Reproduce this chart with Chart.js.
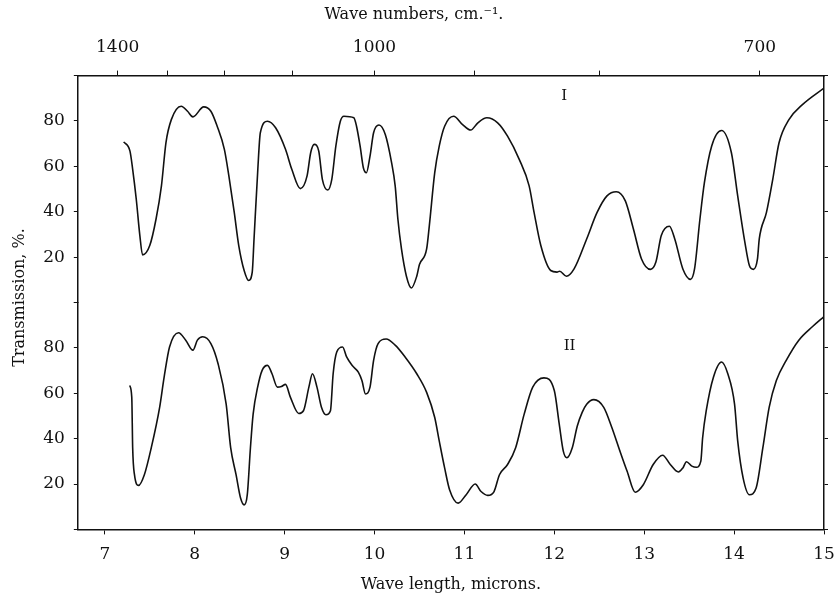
<!DOCTYPE html>
<html>
<head>
<meta charset="utf-8">
<script src="https://cdn.jsdelivr.net/npm/chart.js@4/dist/chart.umd.min.js"></script>
<style>
  html, body { margin: 0; padding: 0; background: #fff; }
  #wrap { width: 834px; height: 595px; }
</style>
</head>
<body>
<div id="wrap"><canvas id="spectra"></canvas></div>
<script>
// Curve I (upper trace): wave length in microns and transmission in %
const waveI = [7.21, 7.28, 7.31, 7.35, 7.39, 7.42, 7.50, 7.57, 7.63, 7.68, 7.74, 7.85, 7.92, 7.98,
  8.10, 8.18, 8.25, 8.33, 8.38, 8.44, 8.49, 8.55, 8.60, 8.64, 8.66, 8.70, 8.73, 8.81, 8.90,
  9.01, 9.08, 9.175, 9.25, 9.29, 9.33, 9.38, 9.42, 9.48, 9.525, 9.57, 9.62, 9.66, 9.77, 9.80,
  9.84, 9.876, 9.91, 9.95, 9.99, 10.05, 10.12, 10.19, 10.23, 10.26, 10.30, 10.355, 10.41,
  10.47, 10.50, 10.58, 10.61, 10.67, 10.72, 10.78, 10.88, 10.98, 11.07, 11.15, 11.25, 11.37,
  11.48, 11.61, 11.72, 11.775, 11.85, 11.96, 12.03, 12.06, 12.135, 12.22, 12.36, 12.476,
  12.586, 12.69, 12.79, 12.88, 12.97, 13.07, 13.13, 13.19, 13.28, 13.34, 13.43, 13.515, 13.56,
  13.62, 13.67, 13.75, 13.86, 13.97, 14.04, 14.12, 14.17, 14.215, 14.26, 14.28, 14.36, 14.43,
  14.50, 14.61, 14.76, 15.0];
const transI = [70.8, 66.7, 58.7, 45.5, 29.5, 21.0, 25.1, 36.8, 51.4, 70.4, 80.6, 86.5, 84.3, 81.8,
  86.2, 84.3, 77.7, 67.5, 55.8, 39.7, 25.1, 14.1, 9.7, 13.4, 28.0, 57.2, 74.8, 79.9, 77.0,
  67.5, 58.7, 50.2, 55.8, 66.0, 69.7, 66.7, 54.3, 49.6, 54.3, 68.9, 79.9, 82.1, 81.4, 77.7,
  68.9, 59.4, 57.2, 64.5, 74.8, 78.2, 74.0, 61.6, 51.4, 36.8, 23.6, 11.6, 6.4,
  11.6, 16.7, 23.6, 33.9, 57.2, 68.9, 77.7, 82.1, 78.4, 76.0, 79.2, 81.4, 79.2,
  73.3, 63.1, 51.4, 39.7, 25.1, 14.1, 13.4, 13.8, 11.6, 14.8, 28.0, 39.7,
  47.0, 48.8, 44.8, 32.4, 19.2, 14.6, 17.8, 29.5, 33.6, 28.0, 14.8, 10.2, 14.8,
  36.8, 52.9, 68.9, 75.8, 66.0, 47.0, 26.5, 16.3, 14.6, 19.2, 28.0, 39.7, 54.3,
  70.4, 80.6, 87.2, 94.5];

// Curve II (lower trace)
const waveII = [7.277, 7.30, 7.31, 7.33, 7.376, 7.44, 7.517, 7.61, 7.66, 7.72, 7.82, 7.90, 7.98,
  8.03, 8.09, 8.18, 8.26, 8.35, 8.40, 8.46, 8.51, 8.55, 8.585, 8.62, 8.65, 8.70, 8.75, 8.81,
  8.86, 8.92, 8.965, 9.01, 9.065, 9.157, 9.21, 9.27, 9.31, 9.36, 9.41, 9.46, 9.51, 9.54, 9.58,
  9.645, 9.69, 9.75, 9.82, 9.86, 9.90, 9.95, 9.99, 10.04, 10.13, 10.23, 10.34, 10.47, 10.58,
  10.67, 10.72, 10.78, 10.835, 10.93, 11.02, 11.12, 11.185, 11.26, 11.33, 11.39, 11.48, 11.57,
  11.665, 11.76, 11.885, 12.00, 12.055, 12.10, 12.14, 12.20, 12.255, 12.31, 12.36, 12.44,
  12.55, 12.64, 12.73, 12.81, 12.90, 12.99, 13.10, 13.205, 13.29, 13.38, 13.43, 13.47, 13.53,
  13.58, 13.63, 13.65, 13.69, 13.77, 13.86, 13.93, 14.005, 14.04, 14.10, 14.17, 14.245, 14.32,
  14.39, 14.47, 14.58, 14.72, 14.87, 15.0];
const transII = [63.4, 58.2, 36.0, 24.1, 19.4, 24.1, 36.0, 53.8, 67.1, 80.4, 86.7, 83.4, 79.0,
  83.4, 84.9, 81.9, 73.0, 55.2, 36.0, 24.1, 13.8, 10.8, 15.3, 36.0, 50.8, 62.7, 70.1, 72.3,
  68.6, 62.7, 63.0, 63.9, 58.2, 51.1, 52.3, 62.7, 68.6, 62.7, 53.8, 50.5, 52.3, 68.6, 78.2,
  80.4, 76.0, 72.3, 69.3, 65.6, 59.7, 62.7, 74.5, 81.9, 83.9, 81.2, 76.0, 68.6, 60.4,
  49.3, 39.0, 27.1, 17.5, 11.6, 15.3, 20.0, 16.7, 15.0, 16.7, 24.1, 28.6, 36.0,
  50.8, 62.7, 66.8, 61.2, 46.4, 34.5, 31.6, 36.0, 45.5, 51.6, 55.2, 57.2,
  53.8, 44.9, 34.5, 25.6, 16.4, 19.7, 28.6, 32.7, 28.6, 25.3, 27.1, 29.8, 27.9,
  27.4, 30.1, 40.4, 52.3, 67.1, 73.8, 68.6, 55.2, 39.0, 22.7, 15.3, 18.2, 36.0,
  53.8, 65.6, 74.5, 83.4, 89.3, 93.8];

// Tick values
const micronTicks = [7, 8, 9, 10, 11, 12, 13, 14, 15];
const waveNumberTicks = [1400, 1300, 1200, 1100, 1000, 900, 800, 700];
const waveNumberLabels = [1400, 1000, 700];
const percentTicks = [0, 20, 40, 60, 80, 100];
const percentLabels = [20, 40, 60, 80];

// Roman numerals marking each trace
const panelLabels = [
  { text: "I", x: 12.11, y: 91, axis: "yTop" },
  { text: "II", x: 12.17, y: 81, axis: "yBot" },
];

const ink = "#111";
const serif = "'DejaVu Serif', serif";

const toPoints = (xs, ys) => xs.map((x, i) => ({ x: x, y: ys[i] }));

//draw the I and II labels at data coordinates
const panelLabelPlugin = {
  id: "panelLabels",
  afterDatasetsDraw(chart) {
    const ctx = chart.ctx;
    ctx.save();
    ctx.fillStyle = ink;
    ctx.font = "15px " + serif;
    ctx.textAlign = "center";
    ctx.textBaseline = "middle";
    for (let l of panelLabels) {
      const px = chart.scales.x.getPixelForValue(l.x);
      const py = chart.scales[l.axis].getPixelForValue(l.y);
      ctx.fillText(l.text, px, py);
    }
    ctx.restore();
  },
};

const yLeft = (weight) => ({
  type: "linear",
  position: "left",
  stack: "left",
  weight: weight,
  min: 0,
  max: 100,
  afterBuildTicks: (axis) => { axis.ticks = percentTicks.map(v => ({ value: v })); },
  ticks: {
    color: ink,
    font: { family: serif, size: 17 },
    padding: 9,
    callback: (v) => percentLabels.includes(v) ? String(v) : "",
  },
  grid: { drawOnChartArea: false, color: ink, tickLength: 4 },
  border: { color: ink, width: 1.5 },
});

const yRight = (weight) => ({
  type: "linear",
  position: "right",
  stack: "right",
  weight: weight,
  min: 0,
  max: 100,
  afterBuildTicks: (axis) => { axis.ticks = percentTicks.map(v => ({ value: v })); },
  ticks: { display: false },
  grid: { drawOnChartArea: false, color: ink, tickLength: 4 },
  border: { color: ink, width: 1.5 },
});

new Chart(document.getElementById("spectra"), {
  type: "line",
  plugins: [panelLabelPlugin],
  data: {
    datasets: [
      {
        label: "I",
        data: toPoints(waveI, transI),
        xAxisID: "x",
        yAxisID: "yTop",
        borderColor: ink,
        borderWidth: 1.6,
        pointRadius: 0,
        cubicInterpolationMode: "monotone",
      },
      {
        label: "II",
        data: toPoints(waveII, transII),
        xAxisID: "x",
        yAxisID: "yBot",
        borderColor: ink,
        borderWidth: 1.6,
        pointRadius: 0,
        cubicInterpolationMode: "monotone",
      },
    ],
  },
  options: {
    responsive: true,
    maintainAspectRatio: false,
    animation: false,
    layout: { autoPadding: false, padding: { top: 0, right: 6, bottom: 0, left: 0 } },
    plugins: {
      legend: { display: false },
      tooltip: { enabled: false },
      title: {
        display: true,
        position: "top",
        text: "Wave numbers, cm.\u207B\u00B9.",
        color: ink,
        font: { family: serif, size: 16, weight: "normal" },
        padding: { top: 5, bottom: 0 },
      },
      subtitle: {
        display: true,
        position: "left",
        text: "Transmission, %.",
        color: ink,
        font: { family: serif, size: 16, weight: "normal" },
        padding: { top: 10, bottom: 5 },
      },
    },
    scales: {
      x: {
        type: "linear",
        position: "bottom",
        min: 6.7,
        max: 15,
        afterBuildTicks: (axis) => { axis.ticks = micronTicks.map(v => ({ value: v })); },
        // let the "15" label run to the page edge as in the original
        afterFit: (axis) => { axis.paddingRight = 0; },
        ticks: { color: ink, font: { family: serif, size: 17 }, padding: 10 },
        grid: { drawOnChartArea: false, color: ink, tickLength: 5 },
        border: { color: ink, width: 1.5 },
        title: {
          display: true,
          text: "Wave length, microns.",
          color: ink,
          font: { family: serif, size: 16 },
          padding: { top: 0, bottom: 1 },
        },
      },
      x2: {
        type: "linear",
        position: "top",
        min: 6.7,
        max: 15,
        afterBuildTicks: (axis) => { axis.ticks = waveNumberTicks.map(n => ({ value: 10000 / n })); },
        ticks: {
          color: ink,
          font: { family: serif, size: 17 },
          padding: 13,
          callback: (v) => {
            const n = Math.round(10000 / v);
            return waveNumberLabels.includes(n) ? String(n) : "";
          },
        },
        grid: { drawOnChartArea: false, color: ink, tickLength: 5 },
        border: { color: ink, width: 1.5 },
      },
      yTop: yLeft(1),
      yBot: yLeft(0),
      rTop: yRight(0),
      rBot: yRight(1),
    },
  },
});
</script>
</body>
</html>
